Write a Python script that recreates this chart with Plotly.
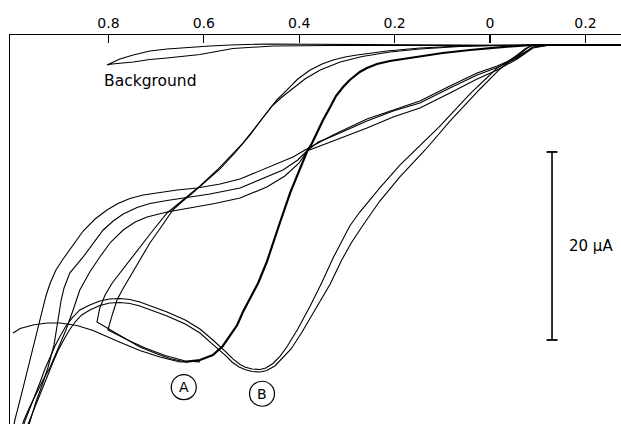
import plotly.graph_objects as go

# ---------------- data (potential E in V, current I in µA; downward = anodic) -------------
tick_vals = [0.8, 0.6, 0.4, 0.2, 0.0, -0.2]
tick_text = ["0.8", "0.6", "0.4", "0.2", "0", "0.2"]

bg_E = [-0.090, 0.063, 0.189, 0.335, 0.468, 0.545, 0.587, 0.677, 0.713, 0.748, 0.776, 0.803,
        0.792, 0.748, 0.713, 0.677, 0.608, 0.539, 0.455, 0.335, 0.189, -0.090]
bg_I = [-0.05, 0.0, 0.05, 0.11, 0.11, 0.0, -0.11, -0.43, -0.64, -1.06, -1.49, -2.13,
        -2.02, -1.81, -1.54, -1.38, -1.01, -0.37, -0.11, -0.05, -0.05, -0.05]

fwdA_E = [-0.275, -0.090, -0.052, -0.015, 0.042, 0.099, 0.168, 0.210, 0.237, 0.258, 0.273, 0.294,
          0.308, 0.323, 0.335, 0.350, 0.363, 0.373, 0.384, 0.398, 0.419, 0.440, 0.455, 0.468,
          0.486, 0.503, 0.518, 0.530, 0.545, 0.560, 0.581, 0.608, 0.639]
fwdA_I = [0.0, 0.0, -0.11, -0.27, -0.53, -0.85, -1.33, -1.70, -2.02, -2.45, -2.87, -3.72,
          -4.47, -5.43, -6.60, -7.98, -9.36, -10.43, -11.38, -13.09, -15.74, -18.83, -21.06, -23.09,
          -25.32, -26.91, -28.40, -29.79, -30.96, -32.02, -32.98, -33.51, -33.72]

a1_E = [0.639, 0.671, 0.692, 0.734, 0.765, 0.797, 0.824, 0.818, 0.807, 0.792, 0.765, 0.734,
        0.706, 0.677, 0.635, 0.608, 0.572, 0.541, 0.518, 0.493, 0.468, 0.447, 0.426, 0.403,
        0.377, 0.352, 0.329, 0.304, 0.279, 0.247, 0.216, 0.147, 0.063, -0.021, -0.090]
a1_I = [-33.72, -33.35, -32.98, -32.13, -31.22, -30.32, -29.47, -27.98, -26.60, -25.32, -23.51, -21.49,
        -19.68, -17.87, -16.17, -15.00, -13.30, -11.70, -10.43, -8.83, -7.23, -5.85, -4.79, -3.62,
        -2.66, -2.02, -1.60, -1.28, -1.06, -0.85, -0.64, -0.32, -0.11, -0.03, 0.0]

a2_E = [0.608, 0.639, 0.681, 0.723, 0.755, 0.782, 0.801, 0.792, 0.782, 0.771, 0.759, 0.736,
        0.713, 0.688, 0.665, 0.644, 0.623, 0.597, 0.566, 0.535, 0.503, 0.478, 0.457, 0.436,
        0.413, 0.388, 0.356, 0.314, 0.268, 0.210, 0.147, 0.063, -0.021, -0.090]
a2_I = [-33.72, -33.62, -33.03, -32.23, -31.49, -30.80, -30.32, -28.72, -27.13, -26.06, -25.00, -22.98,
        -21.06, -19.26, -17.55, -16.60, -15.74, -14.57, -13.19, -11.49, -9.57, -7.87, -6.49, -5.53,
        -4.57, -3.62, -2.66, -1.81, -1.22, -0.74, -0.43, -0.16, -0.05, 0.0]

a3_E = [0.608, 0.650, 0.692, 0.734, 0.782, 0.832, 0.866, 0.901, 0.929, 0.958, 0.985, 1.000]
a3_I = [-33.62, -33.72, -33.19, -32.50, -31.49, -30.37, -29.84, -29.57, -29.57, -29.79, -30.16, -30.64]

b1_E = [-0.090, -0.073, -0.057, -0.036, -0.015, 0.042, 0.105, 0.147, 0.189, 0.231, 0.273, 0.294,
        0.310, 0.329, 0.352, 0.377, 0.403, 0.426, 0.440, 0.455, 0.470, 0.482, 0.499, 0.514,
        0.524, 0.539, 0.551, 0.566, 0.581, 0.608, 0.639, 0.677, 0.713, 0.734, 0.755, 0.776,
        0.797, 0.818, 0.839, 0.860, 0.876, 0.889, 0.901, 0.912, 0.922, 0.933, 0.943, 0.954,
        0.964, 0.975, 0.981]
b1_I = [0.0, -0.43, -1.06, -1.81, -2.45, -5.21, -8.62, -10.74, -12.77, -15.21, -17.77, -19.26,
        -20.74, -22.66, -25.21, -27.77, -30.21, -32.13, -33.09, -33.88, -34.36, -34.52, -34.47, -34.26,
        -33.99, -33.40, -32.77, -32.02, -31.38, -30.21, -29.26, -28.40, -27.71, -27.34, -27.07, -26.97,
        -27.02, -27.23, -27.66, -28.19, -29.04, -29.89, -30.96, -32.02, -33.19, -34.47, -35.85, -37.23,
        -38.62, -40.00, -40.96]

b2_E = [-0.090, -0.078, -0.063, -0.042, -0.021, 0.021, 0.084, 0.136, 0.189, 0.231, 0.266, 0.291,
        0.312, 0.335, 0.367, 0.394, 0.417, 0.434, 0.451, 0.468, 0.482, 0.499, 0.514, 0.526,
        0.541, 0.553, 0.568, 0.583, 0.608, 0.639, 0.677, 0.713, 0.734, 0.755, 0.776, 0.797,
        0.818, 0.839, 0.856, 0.870, 0.883, 0.895, 0.906, 0.916, 0.926, 0.937, 0.948, 0.958,
        0.969, 0.975]
b2_I = [0.0, -0.32, -0.96, -1.70, -2.55, -4.68, -8.09, -11.17, -14.04, -16.60, -19.15, -21.06,
        -22.98, -25.43, -28.19, -30.53, -32.34, -33.30, -34.15, -34.63, -34.79, -34.73, -34.52, -34.26,
        -33.72, -33.09, -32.39, -31.76, -30.64, -29.68, -28.83, -28.14, -27.77, -27.50, -27.39, -27.45,
        -27.71, -28.19, -28.72, -29.47, -30.43, -31.49, -32.55, -33.72, -34.98, -36.28, -37.55, -38.94,
        -40.32, -41.17]

u1_E = [1.000, 0.996, 0.981, 0.964, 0.950, 0.939, 0.931, 0.922, 0.910, 0.895, 0.876, 0.853,
        0.828, 0.803, 0.780, 0.755, 0.727, 0.698, 0.656, 0.614, 0.566, 0.524, 0.468, 0.413,
        0.384, 0.329, 0.258, 0.203, 0.147, 0.084, 0.027, -0.015, -0.057, -0.090, -0.126, -0.275]
u1_I = [-40.96, -39.89, -36.91, -33.51, -30.64, -28.40, -26.70, -25.32, -23.94, -22.77, -21.38, -19.79,
        -18.51, -17.55, -16.86, -16.33, -15.96, -15.74, -15.43, -15.21, -14.79, -14.26, -13.09, -11.91,
        -11.06, -9.57, -7.87, -6.91, -5.96, -4.36, -2.98, -2.23, -1.28, -0.21, 0.0, 0.0]

u2_E = [0.971, 0.962, 0.952, 0.939, 0.927, 0.914, 0.906, 0.899, 0.893, 0.881, 0.853, 0.832,
        0.811, 0.790, 0.769, 0.740, 0.713, 0.677, 0.644, 0.587, 0.524, 0.493, 0.434, 0.403,
        0.384, 0.329, 0.258, 0.203, 0.147, 0.084, 0.027, -0.015, -0.057, -0.090, -0.126]
u2_I = [-41.17, -39.68, -37.98, -36.17, -34.36, -31.91, -29.26, -27.13, -25.85, -24.26, -22.55, -21.06,
        -19.68, -18.72, -17.98, -17.29, -16.86, -16.54, -16.28, -15.85, -15.21, -14.57, -13.30, -12.23,
        -11.28, -10.21, -8.83, -7.66, -6.70, -5.11, -3.62, -2.66, -1.49, -0.32, 0.0]

u3_E = [0.985, 0.977, 0.966, 0.954, 0.937, 0.922, 0.906, 0.889, 0.874, 0.860, 0.839, 0.818,
        0.795, 0.769, 0.744, 0.719, 0.677, 0.629, 0.577, 0.524, 0.468, 0.430, 0.400, 0.382,
        0.360, 0.329, 0.258, 0.203, 0.147, 0.084, 0.027, -0.015, -0.057, -0.090, -0.126]
u3_I = [-41.17, -39.89, -38.62, -37.34, -35.64, -34.26, -32.34, -30.32, -28.19, -26.06, -24.15, -22.55,
        -20.96, -19.68, -18.83, -18.30, -17.77, -17.34, -16.86, -16.28, -15.11, -13.94, -12.55, -11.17,
        -10.32, -9.68, -8.09, -7.02, -6.17, -4.57, -3.19, -2.39, -1.38, -0.21, 0.0]

scale_ua = 20
scale_E = -0.130
scale_top_I = -11.38
peak_labels = ["A", "B"]
peak_E = [0.642, 0.478]
peak_I = [-36.4, -37.1]
bg_label_E, bg_label_I = 0.813, -3.83

# ---------------- figure -------------
FONT = "DejaVu Sans"
fig = go.Figure()

def add(E, I, w=1.1):
    fig.add_trace(go.Scatter(x=E, y=I, mode="lines", hoverinfo="skip",
                             line=dict(color="black", width=w)))

add(bg_E, bg_I, 1.1)
for E, I in [(a1_E, a1_I), (a2_E, a2_I), (a3_E, a3_I), (b1_E, b1_I), (b2_E, b2_I),
             (u1_E, u1_I), (u2_E, u2_I), (u3_E, u3_I)]:
    add(E, I, 1.1)
add(fwdA_E, fwdA_I, 2.2)

# scale bar
cap = 0.0115
shapes = [
    dict(type="line", x0=scale_E, x1=scale_E, y0=scale_top_I, y1=scale_top_I - scale_ua,
         line=dict(color="black", width=1.6)),
    dict(type="line", x0=scale_E - cap, x1=scale_E + cap, y0=scale_top_I, y1=scale_top_I,
         line=dict(color="black", width=1.8)),
    dict(type="line", x0=scale_E - cap, x1=scale_E + cap, y0=scale_top_I - scale_ua,
         y1=scale_top_I - scale_ua, line=dict(color="black", width=1.8)),
]
for e, i in zip(peak_E, peak_I):
    shapes.append(dict(type="circle", xref="x", yref="y", xsizemode="pixel", ysizemode="pixel",
                       xanchor=e, yanchor=i, x0=-12.5, x1=12.5, y0=-12.5, y1=12.5,
                       line=dict(color="black", width=1.2)))

annotations = [
    dict(x=scale_E - 0.031, y=scale_top_I - scale_ua / 2, text=f"{scale_ua} µA", showarrow=False,
         xanchor="left", yanchor="middle", font=dict(family=FONT, size=15, color="black")),
    dict(x=bg_label_E, y=bg_label_I, text="Background", showarrow=False,
         xanchor="left", yanchor="middle", font=dict(family=FONT, size=15.5, color="black")),
]
for t, e, i in zip(peak_labels, peak_E, peak_I):
    annotations.append(dict(x=e, y=i, text=t, showarrow=False, xanchor="center", yanchor="middle",
                            font=dict(family=FONT, size=14, color="black")))

fig.update_layout(
    width=621, height=424, margin=dict(l=10, r=0, t=35, b=0, autoexpand=False),
    paper_bgcolor="white", plot_bgcolor="white", showlegend=False,
    shapes=shapes, annotations=annotations,
    xaxis=dict(range=[1.0063, -0.2746], side="top", showline=True, linecolor="black", linewidth=1.5,
               ticks="inside", ticklen=8, tickwidth=1.3, tickcolor="black", automargin=False,
               tickvals=tick_vals, ticktext=tick_text, showgrid=False, zeroline=False,
               tickfont=dict(family=FONT, size=14, color="black")),
    yaxis=dict(range=[-40.32, 1.064], showline=True, linecolor="black", linewidth=1.5,
               automargin=False, showticklabels=False, ticks="", showgrid=False, zeroline=False),
)

fig.write_html(
    "out.html",
    config={"displayModeBar": False, "staticPlot": True},
    post_script="document.body.style.margin='0';document.body.style.padding='0';"
                "document.documentElement.style.overflow='hidden';",
)
